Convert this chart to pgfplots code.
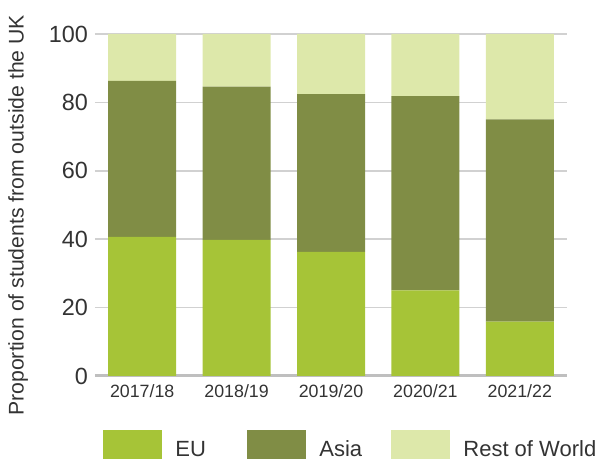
\documentclass[border=0pt]{standalone}
\usepackage{fontspec}
\setmainfont{Liberation Sans}
\usepackage{pgfplots}
\pgfplotsset{compat=1.18}

\definecolor{eu}{HTML}{A6C437}
\definecolor{asia}{HTML}{808D45}
\definecolor{row}{HTML}{DDE8AA}
\definecolor{txt}{HTML}{333333}

\begin{document}
\begin{tikzpicture}
\useasboundingbox (-47.5pt,-41.5pt) rectangle (252pt,188pt);
\begin{axis}[
  at={(0,0)}, anchor=south west,
  scale only axis,
  width=236pt, height=171pt,
  ybar stacked, bar width=34pt,
  xmin=-0.5, xmax=4.5,
  ymin=0, ymax=100,
  xtick=data,
  xticklabels={2017/18,2018/19,2019/20,2020/21,2021/22},
  ytick={0,20,40,60,80,100},
  major tick length=0pt,
  axis x line*=bottom, axis y line*=left,
  y axis line style={draw=none},
  x axis line style={draw=black!25, line width=1.5pt},
  ymajorgrids,
  grid style={draw=black!18, line width=0.8pt},
  /pgf/number format/assume math mode=true,
  xticklabel style={font=\fontsize{8.9}{10}\selectfont, text=txt, yshift=-1pt},
  yticklabel style={font=\fontsize{11.7}{13}\selectfont, text=txt},
  ylabel={Proportion of students from outside the UK},
  ylabel style={at={(axis description cs:-0.163,0.47)}, anchor=center,
    font=\fontsize{10.6}{12}\selectfont, text=txt},
  legend columns=3,
  legend style={at={(axis description cs:0.017,-0.158)}, anchor=north west,
    draw=none, fill=none, inner sep=0pt,
    font=\fontsize{11}{13}\selectfont, text=txt,
    nodes={inner sep=0pt},
    /tikz/every odd column/.append style={column sep=6.5pt}},
  legend image code/.code={\fill[#1] (0pt,-4.5pt) rectangle (29.5pt,10pt);},
]
\addplot[fill=eu, draw=none] coordinates {(0,40.7) (1,39.8) (2,36.3) (3,25.0) (4,15.9)};
\addplot[fill=asia, draw=none] coordinates {(0,45.6) (1,44.8) (2,46.1) (3,56.8) (4,59.1)};
\addplot[fill=row, draw=none] coordinates {(0,13.7) (1,15.4) (2,17.6) (3,18.2) (4,25.0)};
\legend{\makebox[36pt][l]{EU},\makebox[36pt][l]{Asia},Rest of World}
\end{axis}
\end{tikzpicture}
\end{document}
